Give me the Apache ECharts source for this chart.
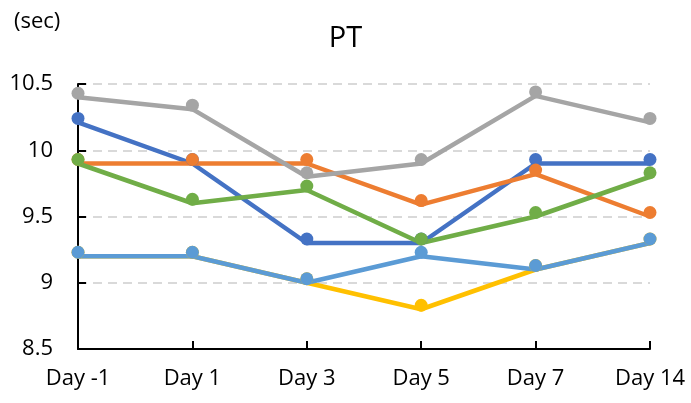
<!DOCTYPE html>
<html>
<head>
<meta charset="utf-8">
<script src="https://cdn.jsdelivr.net/npm/echarts@6/dist/echarts.min.js"></script>
<style>html,body{margin:0;padding:0;background:#fff}#c{width:691px;height:403px}</style>
</head>
<body>
<div id="c"></div>
<script>
var categories = ['Day -1', 'Day 1', 'Day 3', 'Day 5', 'Day 7', 'Day 14'];
var seriesBlue = [10.21, 9.9, 9.3, 9.3, 9.9, 9.9];
var seriesOrange = [9.9, 9.9, 9.9, 9.59, 9.82, 9.5];
var seriesGrey = [10.4, 10.31, 9.8, 9.9, 10.41, 10.21];
var seriesYellow = [9.2, 9.2, 9.0, 8.8, 9.1, 9.3];
var seriesLightBlue = [9.2, 9.2, 9.0, 9.2, 9.1, 9.3];
var seriesGreen = [9.9, 9.6, 9.7, 9.3, 9.5, 9.8];
var yTicks = [8.5, 9, 9.5, 10, 10.5];

var FONT = 'Open Sans';
function mk(name, data, color) {
  return {
    name: name, type: 'line', data: data,
    symbol: 'circle', symbolSize: 13, symbolOffset: [0, -4],
    lineStyle: { color: color, width: 4.5 },
    itemStyle: { color: color },
    animation: false
  };
}
var chart = echarts.init(document.getElementById('c'));
chart.setOption({
  backgroundColor: '#fff',
  title: [
    { text: 'PT', left: 'center', top: 19, textStyle: { fontFamily: FONT, fontSize: 29, fontWeight: 'normal', color: '#000' } },
    { text: '(sec)', left: 9, top: 6, textStyle: { fontFamily: FONT, fontSize: 22, fontWeight: 'normal', color: '#000' } }
  ],
  grid: { left: 78, right: 41, top: 84, bottom: 54, containLabel: false },
  xAxis: {
    type: 'category', data: categories, boundaryGap: false,
    axisLine: { lineStyle: { color: '#000', width: 2 } },
    axisTick: { inside: true, length: 8, lineStyle: { color: '#000', width: 2 } },
    axisLabel: { fontFamily: FONT, fontSize: 22, color: '#000', margin: 19 },
    splitLine: { show: false }
  },
  yAxis: {
    type: 'value', min: yTicks[0], max: yTicks[yTicks.length - 1], interval: 0.5,
    axisLine: { show: true, lineStyle: { color: '#000', width: 2 } },
    axisTick: { show: true, inside: true, length: 8, lineStyle: { color: '#000', width: 2 } },
    axisLabel: { fontFamily: FONT, fontSize: 22, color: '#000', margin: 25 },
    splitLine: { show: true, lineStyle: { color: '#D9D9D9', width: 2, type: [9, 6] } }
  },
  series: [
    mk('S1', seriesBlue, '#4472C4'),
    mk('S2', seriesOrange, '#ED7D31'),
    mk('S3', seriesGrey, '#A5A5A5'),
    mk('S4', seriesYellow, '#FFC000'),
    mk('S5', seriesLightBlue, '#5B9BD5'),
    mk('S6', seriesGreen, '#70AD47')
  ]
});
</script>
</body>
</html>
